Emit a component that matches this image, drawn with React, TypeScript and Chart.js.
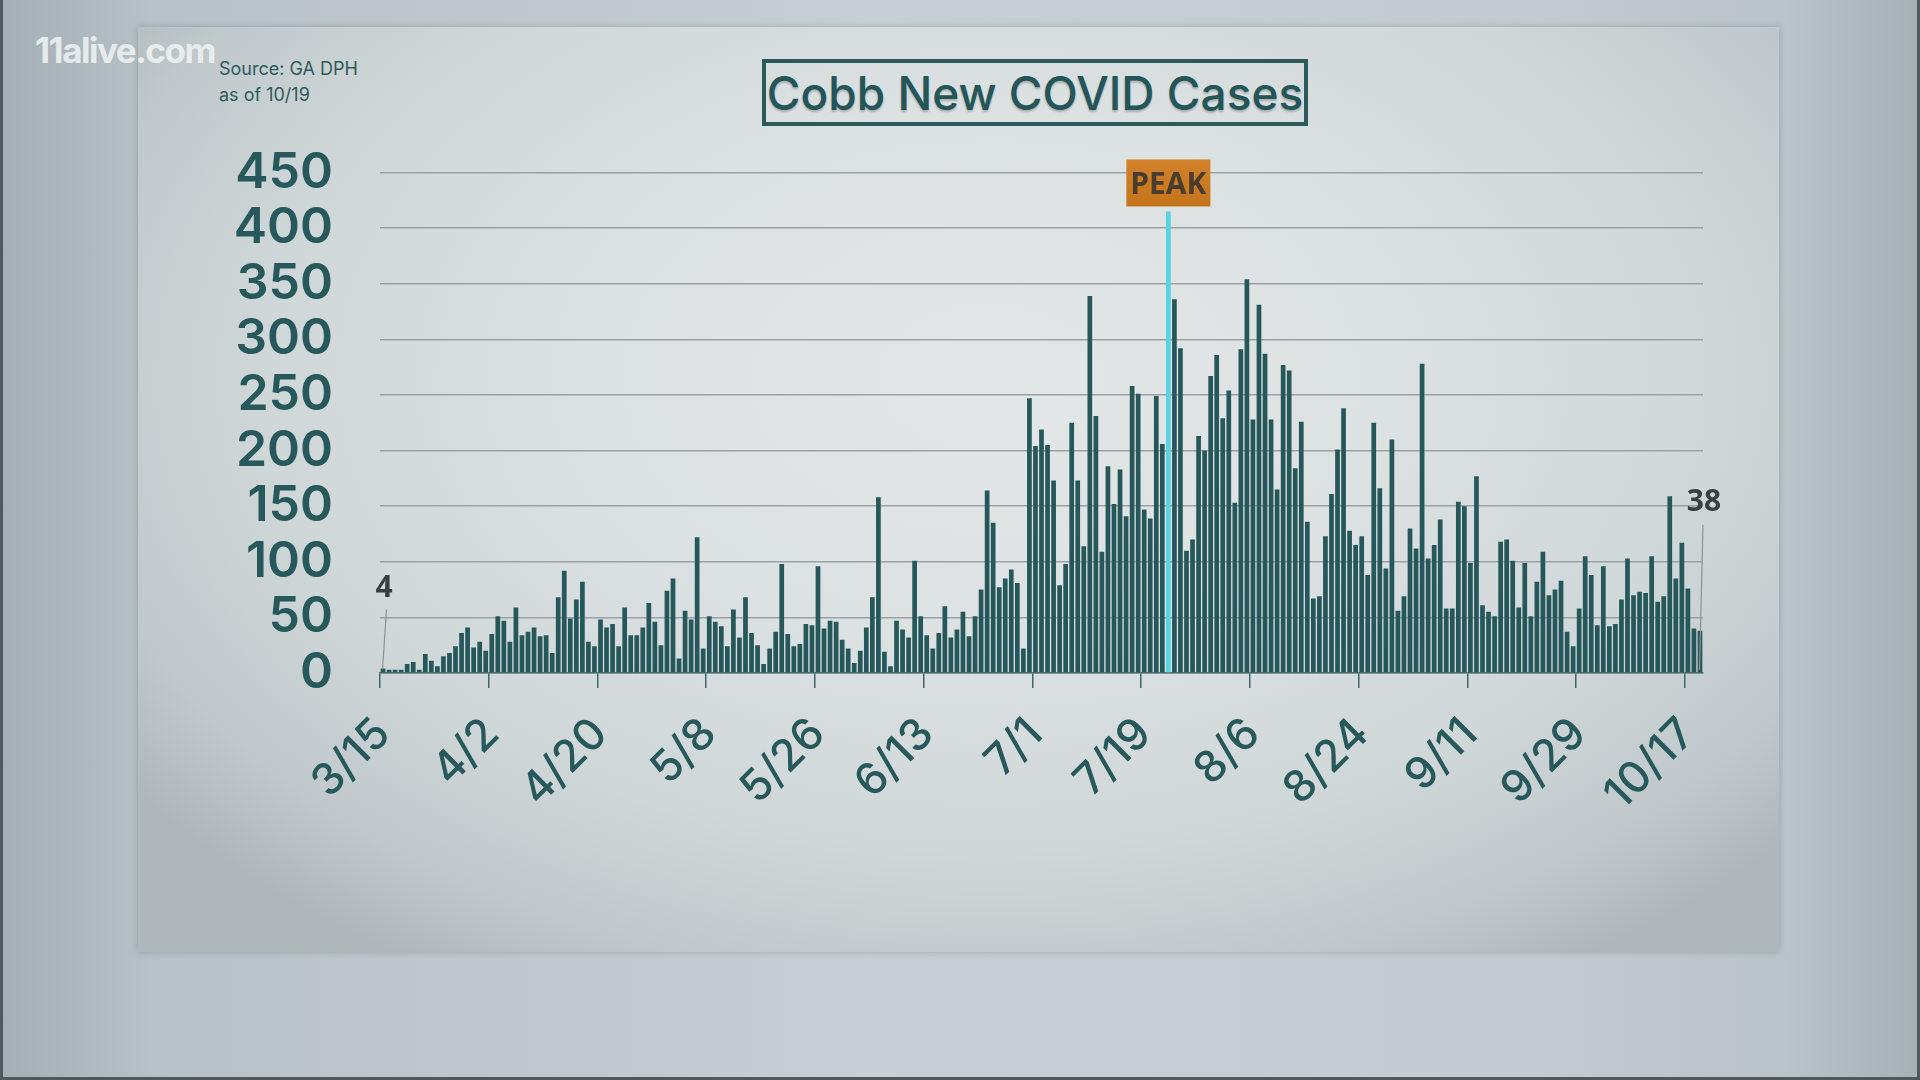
import React, { useEffect, useRef } from 'react';
import { Chart, registerables } from 'chart.js';

Chart.register(...registerables);

// ---- Data (daily new cases, Cobb County) ----
const MONTH_NUMBERS = [3, 4, 5, 6, 7, 8, 9, 10];
const FIRST_DAYS = [15, 1, 1, 1, 1, 1, 1, 1];

const MARCH = [4, 3, 3, 3, 8, 10, 3, 17, 11, 6, 15, 18, 24, 36, 41, 23, 28];
const APRIL = [20, 35, 51, 47, 28, 59, 34, 37, 41, 33, 34, 18, 68, 92, 49, 66, 82, 28, 24, 48, 41, 44, 24, 59, 34, 34, 41, 63, 46, 25];
const MAY = [74, 85, 13, 56, 48, 122, 22, 51, 46, 42, 24, 57, 32, 68, 36, 25, 8, 22, 37, 98, 35, 24, 26, 44, 43, 96, 40, 47, 46, 30, 22];
const JUNE = [9, 20, 41, 68, 158, 19, 6, 47, 39, 32, 101, 51, 34, 22, 36, 60, 32, 39, 55, 33, 51, 75, 164, 135, 77, 85, 93, 81, 22, 247];
const JULY = [204, 219, 205, 173, 79, 98, 225, 173, 114, 339, 231, 109, 186, 152, 183, 141, 258, 251, 147, 139, 249, 206, 415, 336, 292, 110, 120, 213, 200, 267, 286];
const AUGUST = [229, 254, 153, 291, 354, 228, 331, 287, 228, 165, 277, 272, 184, 226, 136, 67, 69, 123, 161, 201, 238, 128, 115, 123, 88, 225, 166, 94, 210, 56, 69];
const SEPTEMBER = [130, 112, 278, 103, 115, 138, 58, 58, 154, 150, 99, 177, 61, 55, 51, 118, 120, 101, 59, 99, 51, 82, 109, 70, 75, 83, 37, 24, 58, 105];
const OCTOBER = [88, 43, 96, 42, 44, 66, 103, 70, 73, 72, 105, 64, 69, 159, 85, 117, 76, 40, 38];

const MONTH_SERIES = [MARCH, APRIL, MAY, JUNE, JULY, AUGUST, SEPTEMBER, OCTOBER];

const TICK_LABELS = ['3/15', '4/2', '4/20', '5/8', '5/26', '6/13', '7/1', '7/19', '8/6', '8/24', '9/11', '9/29', '10/17'];
const PEAK_DATE = '7/23';
const Y_MIN = 0;
const Y_MAX = 450;
const Y_STEP = 50;

const CATEGORIES: string[] = MONTH_SERIES.flatMap((arr, mi) =>
  arr.map((_, di) => `${MONTH_NUMBERS[mi]}/${FIRST_DAYS[mi] + di}`)
);
const VALUES: number[] = MONTH_SERIES.flat();

const BAR = '#26585b';
const PEAK_BAR = '#56d4e3';
const TEAL_TEXT = '#27585b';

const annotatePlugin = {
  id: 'annotate',
  afterDatasetsDraw(chart: any) {
    const { ctx, scales } = chart;
    const x = scales.x;
    const y = scales.y;
    ctx.save();

    // PEAK tag
    const pi = CATEGORIES.indexOf(PEAK_DATE);
    const px = x.getPixelForValue(pi);
    const ptop = y.getPixelForValue(VALUES[pi]);
    const bw = 84;
    const bh = 47;
    const by = ptop - 5 - bh;
    const g = ctx.createLinearGradient(0, by, 0, by + bh);
    g.addColorStop(0, '#d2822a');
    g.addColorStop(1, '#c4741a');
    ctx.fillStyle = g;
    ctx.fillRect(px - bw / 2, by, bw, bh);
    ctx.font = '700 30px "Open Sans"';
    ctx.fillStyle = '#4a3c2e';
    ctx.textAlign = 'center';
    ctx.textBaseline = 'middle';
    ctx.fillText('PEAK', px, by + bh / 2 + 3);

    // first value label
    ctx.strokeStyle = '#8b9394';
    ctx.lineWidth = 1.2;
    ctx.fillStyle = '#3a3f40';
    ctx.font = '700 30px "Open Sans"';
    const x0 = x.getPixelForValue(0);
    const y0 = y.getPixelForValue(VALUES[0]);
    ctx.fillText(String(VALUES[0]), x0 + 1, y0 - 80);
    ctx.beginPath();
    ctx.moveTo(x0 + 3.5, y0 - 59);
    ctx.lineTo(x0 - 0.5, y0 + 1);
    ctx.stroke();

    // last value label
    const li = VALUES.length - 1;
    const xl = x.getPixelForValue(li);
    const yl = y.getPixelForValue(VALUES[li]);
    const base = y.getPixelForValue(0);
    ctx.fillText(String(VALUES[li]), xl + 4, yl - 128);
    ctx.beginPath();
    ctx.moveTo(xl + 3, yl - 106);
    ctx.lineTo(xl - 0.5, base - 3);
    ctx.stroke();

    ctx.restore();
  },
};

export default function App() {
  const ref = useRef<HTMLCanvasElement>(null);

  useEffect(() => {
    const canvas = ref.current;
    if (!canvas) return;
    const peakIndex = CATEGORIES.indexOf(PEAK_DATE);
    const chart = new Chart(canvas, {
      type: 'bar',
      data: {
        labels: CATEGORIES,
        datasets: [
          {
            data: VALUES,
            backgroundColor: VALUES.map((_, i) => (i === peakIndex ? PEAK_BAR : BAR)),
            borderWidth: 0,
            barPercentage: 0.78,
            categoryPercentage: 1,
          },
        ],
      },
      options: {
        responsive: false,
        maintainAspectRatio: false,
        devicePixelRatio: 1,
        animation: false,
        events: [],
        layout: { padding: { left: 190, top: 172.5, right: 217, bottom: 247 } },
        plugins: {
          legend: { display: false },
          tooltip: { enabled: false },
          title: { display: false },
        },
        scales: {
          x: {
            type: 'category',
            offset: true,
            afterFit: (s: any) => {
              s.height = 160;
            },
            border: { display: true, color: '#4a6e70', width: 1.5 },
            grid: {
              offset: true,
              drawOnChartArea: false,
              drawTicks: true,
              tickLength: 15,
              lineWidth: 1.5,
              color: (c: any) => (TICK_LABELS.includes(CATEGORIES[c.index]) ? '#3f6668' : 'rgba(0,0,0,0)'),
              tickColor: (c: any) => (TICK_LABELS.includes(CATEGORIES[c.index]) ? '#3f6668' : 'rgba(0,0,0,0)'),
            },
            ticks: {
              autoSkip: false,
              maxRotation: 45,
              minRotation: 45,
              padding: 20,
              color: TEAL_TEXT,
              font: { family: 'Inter', weight: '500', size: 44 },
              callback: (_v: any, i: number) => (TICK_LABELS.includes(CATEGORIES[i]) ? CATEGORIES[i] : ''),
            },
          },
          y: {
            min: Y_MIN,
            max: Y_MAX,
            afterFit: (s: any) => {
              s.width = 190;
            },
            border: { display: false },
            grid: {
              drawTicks: false,
              color: '#9aa2a3',
              lineWidth: 1.5,
            },
            ticks: {
              stepSize: Y_STEP,
              autoSkip: false,
              padding: 47,
              color: TEAL_TEXT,
              font: { family: 'Inter', weight: '600', size: 50 },
            },
          },
        },
      },
      plugins: [annotatePlugin],
    });
    return () => chart.destroy();
  }, []);

  return (
    <div
      style={{
        position: 'fixed',
        left: 0,
        top: 0,
        width: 1920,
        height: 1080,
        overflow: 'hidden',
        background:
          'linear-gradient(90deg, #a3afb4 0%, #b7c2c7 8%, #c6cfd3 45%, #c3ccd0 80%, #b9c4c8 93%, #a6b1b6 100%)',
      }}
    >
      <div
        style={{
          position: 'absolute',
          left: 138,
          top: 27,
          width: 1641,
          height: 925,
          background:
            'radial-gradient(ellipse 65% 75% at 52% 38%, #e4e7e7 0%, #dce1e2 38%, #d0d7d9 68%, #bfc8cb 88%, #aeb8ba 100%)',
          boxShadow: '0 0 6px rgba(80,95,100,0.35)',
        }}
      />
      <div
        style={{
          position: 'absolute',
          left: 35,
          top: 30,
          fontFamily: 'Inter',
          fontWeight: 700,
          fontSize: 35,
          letterSpacing: -1.5,
          color: 'rgba(238,242,243,0.9)',
          lineHeight: '40px',
          whiteSpace: 'nowrap',
        }}
      >
        11alive.com
      </div>
      <div
        style={{
          position: 'absolute',
          left: 219,
          top: 56,
          fontFamily: 'Inter',
          fontWeight: 400,
          fontSize: 18,
          color: '#2f5a5c',
          lineHeight: '25.5px',
          whiteSpace: 'nowrap',
        }}
      >
        <div>Source: GA DPH</div>
        <div>as of 10/19</div>
      </div>
      <div
        style={{
          position: 'absolute',
          left: 762,
          top: 59,
          width: 546,
          height: 67,
          boxSizing: 'border-box',
          border: '4px solid #2a5a5c',
          display: 'flex',
          alignItems: 'center',
          justifyContent: 'center',
          fontFamily: 'Inter',
          fontWeight: 500,
          fontSize: 46,
          color: '#245558',
          textShadow: '0 2px 2px rgba(0,0,0,0.22)',
          whiteSpace: 'nowrap',
        }}
      >
        Cobb New COVID Cases
      </div>
      <canvas
        ref={ref}
        width={1920}
        height={1080}
        style={{ position: 'absolute', left: 0, top: 0, width: 1920, height: 1080 }}
      />
      <div
        style={{
          position: 'absolute',
          left: 0,
          top: 0,
          width: 1920,
          height: 1080,
          boxSizing: 'border-box',
          borderLeft: '3px solid #4f585b',
          borderRight: '3px solid #4f585b',
          borderBottom: '3px solid #4f585b',
          pointerEvents: 'none',
        }}
      />
    </div>
  );
}
